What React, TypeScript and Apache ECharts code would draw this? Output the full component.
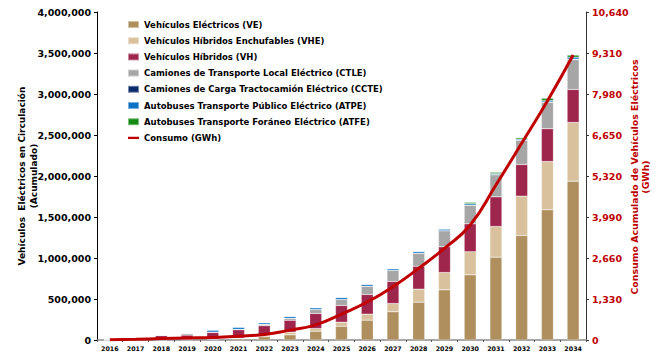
import React, { useEffect, useRef } from "react";
import * as echarts from "echarts";

const years = ["2016","2017","2018","2019","2020","2021","2022","2023","2024","2025","2026","2027","2028","2029","2030","2031","2032","2033","2034"];
const ve = [1000, 3000, 3000, 4000, 6000, 15000, 39000, 63000, 107000, 168000, 242000, 344000, 461000, 612000, 795000, 1010000, 1274000, 1588000, 1937000];
const vhe = [0, 1000, 1000, 1000, 2000, 8000, 20000, 32000, 33000, 49000, 73000, 101000, 159000, 211000, 281000, 374000, 480000, 589000, 716000];
const vh = [2000, 12000, 50000, 55000, 85000, 102000, 115000, 146000, 183000, 204000, 240000, 269000, 280000, 314000, 341000, 362000, 386000, 399000, 402000];
const ctle = [0, 0, 4000, 20000, 3000, 5000, 18000, 24000, 49000, 73000, 101000, 134000, 159000, 195000, 227000, 269000, 297000, 324000, 366000];
const ccte = [0, 0, 0, 0, 0, 0, 0, 0, 0, 0, 0, 0, 0, 1000, 1000, 2000, 2000, 3000, 4000];
const atpe = [0, 0, 0, 0, 24000, 25000, 18000, 21000, 21000, 24000, 21000, 20000, 20000, 19000, 17000, 12000, 12000, 16000, 24000];
const atfe = [0, 0, 0, 0, 0, 0, 2000, 0, 0, 0, 2000, 2000, 2000, 3000, 16000, 16000, 17000, 29000, 25000];
const consumo = [10, 25, 45, 65, 85, 120, 180, 320, 490, 843, 1233, 1730, 2325, 2975, 3730, 5028, 6380, 7753, 9245];

const leftTicks = { min: 0, max: 4000000, interval: 500000 };
const rightTicks = { min: 0, max: 10640, interval: 1330 };

const FONT = "DejaVu Sans";

export default function App() {
  const ref = useRef<HTMLDivElement>(null);
  useEffect(() => {
    const chart = echarts.init(ref.current!, null, { renderer: "svg" });
    const fmt = (v: number) => v.toLocaleString("en-US");
    const barSeries = (name: string, data: number[], color: string) => ({
      name,
      type: "bar",
      stack: "total",
      data,
      barWidth: 12,
      itemStyle: { color, borderColor: "rgba(255,255,255,0.45)", borderWidth: 0.5 },
    });
    chart.setOption({
      animation: false,
      textStyle: { fontFamily: FONT },
      grid: { left: 97, right: 70, top: 12, bottom: 14, containLabel: false },
      legend: {
        orient: "vertical",
        left: 127,
        top: 19,
        padding: 0,
        itemWidth: 11,
        itemHeight: 7,
        itemGap: 5.2,
        textStyle: { fontFamily: FONT, fontSize: 8.5, fontWeight: "bold", color: "#000", lineHeight: 11 },
        data: [
          { name: "Vehículos Eléctricos (VE)", icon: "rect" },
          { name: "Vehículos Híbridos Enchufables (VHE)", icon: "rect" },
          { name: "Vehículos Híbridos (VH)", icon: "rect" },
          { name: "Camiones de Transporte Local Eléctrico (CTLE)", icon: "rect" },
          { name: "Camiones de Carga Tractocamión Eléctrico (CCTE)", icon: "rect" },
          { name: "Autobuses Transporte Público Eléctrico (ATPE)", icon: "rect" },
          { name: "Autobuses Transporte Foráneo Eléctrico (ATFE)", icon: "rect" },
          { name: "Consumo (GWh)", icon: "path://M0,0 L24,0 L24,5 L0,5 Z" },
        ],
      },
      xAxis: {
        type: "category",
        data: years,
        axisLine: { lineStyle: { color: "#8c8c8c", width: 1.5 } },
        axisTick: { show: true, length: 2, lineStyle: { color: "#555" } },
        axisLabel: { fontFamily: FONT, fontSize: 6.3, fontWeight: "bold", color: "#000", margin: 5, interval: 0 },
      },
      yAxis: [
        {
          type: "value",
          ...leftTicks,
          splitLine: { show: false },
          axisLine: { show: true, lineStyle: { color: "#000", width: 1 } },
          axisTick: { show: true, length: 3, lineStyle: { color: "#000" } },
          axisLabel: { fontFamily: FONT, fontSize: 9.5, fontWeight: "bold", color: "#000", margin: 6, formatter: fmt },
        },
        {
          type: "value",
          ...rightTicks,
          splitLine: { show: false },
          axisLine: { show: true, lineStyle: { color: "#333", width: 1 } },
          axisTick: { show: true, length: 3, lineStyle: { color: "#333" } },
          axisLabel: { fontFamily: FONT, fontSize: 9.5, fontWeight: "bold", color: "#c00000", margin: 6, formatter: fmt },
        },
      ],
      series: [
        barSeries("Vehículos Eléctricos (VE)", ve, "#b08f5e"),
        barSeries("Vehículos Híbridos Enchufables (VHE)", vhe, "#d8c19c"),
        barSeries("Vehículos Híbridos (VH)", vh, "#9e254b"),
        barSeries("Camiones de Transporte Local Eléctrico (CTLE)", ctle, "#a6a6a6"),
        barSeries("Camiones de Carga Tractocamión Eléctrico (CCTE)", ccte, "#0b2a6b"),
        barSeries("Autobuses Transporte Público Eléctrico (ATPE)", atpe, "#0a72c4"),
        barSeries("Autobuses Transporte Foráneo Eléctrico (ATFE)", atfe, "#138a13"),
        {
          name: "Consumo (GWh)",
          type: "line",
          yAxisIndex: 1,
          data: consumo,
          smooth: true,
          symbol: "none",
          lineStyle: { color: "#c00000", width: 3 },
          itemStyle: { color: "#c00000" },
        },
      ],
      graphic: [
        {
          type: "text",
          x: 28,
          y: 176,
          rotation: Math.PI / 2,
          style: {
            text: "Vehículos  Eléctricos en Circulación\n(Acumulado)",
            fontFamily: FONT,
            fontSize: 9,
            fontWeight: "bold",
            fill: "#000",
            align: "center",
            verticalAlign: "middle",
            lineHeight: 12,
          },
        },
        {
          type: "text",
          x: 640,
          y: 177,
          rotation: Math.PI / 2,
          style: {
            text: "Consumo Acumulado de Vehículos Eléctricos\n(GWh)",
            fontFamily: FONT,
            fontSize: 9.4,
            fontWeight: "bold",
            fill: "#c00000",
            align: "center",
            verticalAlign: "middle",
            lineHeight: 11,
          },
        },
      ],
    });
    return () => chart.dispose();
  }, []);
  return <div ref={ref} style={{ position: "absolute", left: 0, top: 0, width: 656, height: 354 }} />;
}
